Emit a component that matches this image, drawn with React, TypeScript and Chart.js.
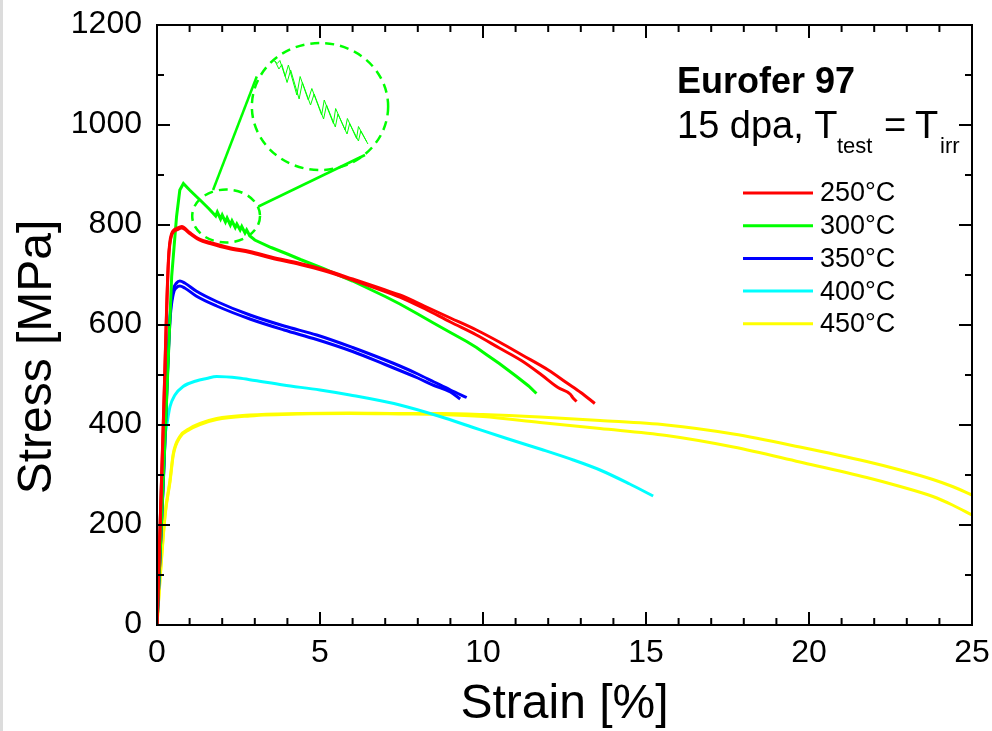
import { useEffect, useRef } from 'react';
import { Chart, registerables } from 'chart.js';

Chart.register(...registerables);

const FONT = '"Liberation Sans", Arial, Helvetica, sans-serif';

// ---- axis ticks ----
const xMajorTicks = [0, 5, 10, 15, 20, 25];
const yMajorTicks = [0, 200, 400, 600, 800, 1000, 1200];
const xMinorStep = 1;
const yMinorStep = 100;
const xTitle = 'Strain [%]';
const yTitle = 'Stress [MPa]';

// ---- legend ----
const seriesLabels = ['250°C', '300°C', '350°C', '400°C', '450°C'];
const seriesColors = ['#ff0000', '#00ff00', '#0000ff', '#00ffff', '#ffff00'];

// ---- 250°C (two specimens) ----
const red1Strain = [0, 0.2, 0.35, 0.45, 0.6, 0.76, 1.0, 1.3, 1.63, 2.2, 2.85, 3.5, 4.39, 5.1, 6.0, 7.0, 7.45, 8.2, 9.0, 9.8, 10.5, 11.2, 12.0, 12.6, 13.0, 13.43];
const red1Stress = [0, 420, 730, 783, 793, 797, 785, 772, 765, 755, 747, 736, 723, 711, 692, 670, 660, 638, 614, 590, 566, 540, 510, 483, 465, 443];
const red2Strain = [0, 0.2, 0.35, 0.45, 0.6, 0.76, 1.0, 1.3, 1.63, 2.2, 2.85, 3.5, 4.39, 5.1, 6.0, 7.0, 7.45, 8.2, 9.0, 9.8, 10.5, 11.2, 11.8, 12.3, 12.67, 12.75, 12.87];
const red2Stress = [0, 415, 725, 780, 790, 794, 783, 770, 763, 753, 745, 734, 721, 709, 690, 667, 656, 633, 606, 580, 554, 528, 500, 475, 462, 455, 447];

// ---- 300°C ----
const greenStrain = [0, 0.2, 0.45, 0.6, 0.7, 0.81, 1.0, 1.32, 1.6, 1.8, 1.85, 1.95, 2.0, 2.1, 2.15, 2.25, 2.3, 2.4, 2.45, 2.55, 2.6, 2.7, 2.75, 2.85, 3.0, 3.5, 4.0, 4.4, 5.1, 6.0, 7.0, 7.45, 8.0, 8.48, 9.0, 9.5, 9.8, 10.1, 10.5, 11.03, 11.4, 11.64];
const greenStress = [0, 300, 697, 817, 870, 883, 870, 850, 832, 818, 826, 812, 820, 806, 814, 800, 808, 795, 802, 790, 797, 784, 790, 778, 770, 755, 742, 731, 713, 688, 657, 642, 622, 604, 585, 567, 555, 541, 523, 497, 478, 463];

// ---- 350°C (two specimens) ----
const blue1Strain = [0, 0.2, 0.4, 0.5, 0.6, 0.7, 0.85, 1.2, 1.83, 2.85, 3.9, 4.9, 6.0, 7.0, 7.45, 8.0, 8.5, 9.0, 9.5];
const blue1Stress = [0, 300, 617, 670, 684, 688, 684, 668, 647, 620, 598, 580, 555, 530, 518, 502, 486, 470, 455];
const blue2Strain = [0, 0.2, 0.4, 0.5, 0.6, 0.7, 0.85, 1.2, 1.83, 2.85, 3.9, 4.9, 6.0, 7.0, 7.45, 8.0, 8.5, 9.0, 9.3];
const blue2Stress = [0, 295, 610, 662, 675, 678, 674, 658, 638, 612, 590, 571, 547, 521, 509, 494, 479, 466, 452];

// ---- 400°C ----
const cyanStrain = [0, 0.14, 0.2, 0.3, 0.4, 0.55, 0.8, 1.2, 1.52, 1.83, 2.5, 3.0, 3.87, 5.0, 5.92, 7.45, 8.68, 9.7, 10.73, 11.8, 12.77, 13.59, 14.5, 15.22];
const cyanStress = [0, 290, 357, 400, 437, 460, 477, 488, 493, 497, 494, 489, 480, 470, 460, 440, 417, 395, 373, 351, 330, 310, 282, 258];

// ---- 450°C (two specimens) ----
const yellow1Strain = [0, 0.09, 0.25, 0.4, 0.5, 0.7, 1.0, 1.32, 1.83, 2.85, 4.4, 5.9, 7.5, 8.7, 10.0, 11.75, 13.59, 15.63, 17.68, 19.72, 21.77, 22.8, 23.8, 24.4, 25.0];
const yellow1Stress = [0, 90, 223, 290, 343, 377, 393, 403, 413, 420, 423, 424, 423, 423, 421, 416, 409, 400, 382, 356, 327, 310, 291, 277, 260];
const yellow2Strain = [0, 0.09, 0.25, 0.4, 0.5, 0.7, 1.0, 1.32, 1.83, 2.85, 4.4, 5.9, 7.5, 8.7, 10.0, 11.75, 13.59, 15.63, 17.68, 19.72, 21.77, 22.8, 23.8, 24.4, 25.0];
const yellow2Stress = [0, 88, 220, 287, 340, 375, 391, 401, 411, 418, 422, 423, 422, 421, 417, 405, 393, 379, 356, 326, 295, 277, 257, 240, 220];

// ---- magnified inset (serrations) ----
const zoomAStrain = [3.57, 3.69, 3.77, 3.93, 4.03, 4.29, 4.39, 4.64, 4.75, 5.05, 5.13, 5.41, 5.48, 5.77, 5.84, 6.12, 6.18, 6.43];
const zoomAStress = [1130, 1123, 1129, 1097, 1120, 1060, 1097, 1050, 1073, 1020, 1050, 1003, 1033, 990, 1013, 973, 997, 967];
const zoomBStrain = [3.62, 3.74, 3.83, 3.99, 4.1, 4.36, 4.46, 4.71, 4.82, 5.11, 5.2, 5.47, 5.55, 5.83, 5.91, 6.18, 6.25, 6.47];
const zoomBStress = [1128, 1112, 1121, 1085, 1110, 1052, 1085, 1040, 1062, 1012, 1040, 996, 1022, 982, 1003, 968, 988, 962];

// connector lines from small to large circle
const connectAStrain = [1.72, 3.06];
const connectAStress = [870, 1097];
const connectBStrain = [3.11, 6.38];
const connectBStress = [837, 940];

// dashed circles: [centerStrain, centerStress, radiusStrain, radiusStress]
const smallCircle = [2.12, 818, 1.04, 53];
const bigCircle = [5.0, 1037, 2.09, 127];

const zip = (xs: number[], ys: number[]) => xs.map((x, i) => ({ x, y: ys[i] }));

const framePlugin = {
  id: 'frameTicks',
  afterDatasetsDraw(chart: any) {
    const { ctx, chartArea, scales } = chart;
    const { left, right, top, bottom } = chartArea;
    const xs = scales.x;
    const ys = scales.y;
    ctx.save();

    // dashed ellipses
    ctx.strokeStyle = '#00ff00';
    ctx.lineWidth = 2.5;
    ctx.setLineDash([9, 6]);
    for (const c of [smallCircle, bigCircle]) {
      const cx = xs.getPixelForValue(c[0]);
      const cy = ys.getPixelForValue(c[1]);
      const rx = Math.abs(xs.getPixelForValue(c[0] + c[2]) - cx);
      const ry = Math.abs(ys.getPixelForValue(c[1] + c[3]) - cy);
      ctx.beginPath();
      ctx.ellipse(cx, cy, rx, ry, 0, 0, Math.PI * 2);
      ctx.stroke();
    }
    ctx.setLineDash([]);

    // frame
    ctx.strokeStyle = '#000';
    ctx.lineWidth = 2;
    ctx.beginPath();
    ctx.rect(left, top, right - left, bottom - top);
    ctx.stroke();

    const line = (x1: number, y1: number, x2: number, y2: number) => {
      ctx.beginPath();
      ctx.moveTo(x1, y1);
      ctx.lineTo(x2, y2);
      ctx.stroke();
    };
    const xMin = xMajorTicks[0];
    const xMax = xMajorTicks[xMajorTicks.length - 1];
    const yMin = yMajorTicks[0];
    const yMax = yMajorTicks[yMajorTicks.length - 1];
    for (let v = xMin + xMinorStep; v < xMax; v += xMinorStep) {
      const px = xs.getPixelForValue(v);
      const len = xMajorTicks.includes(v) ? 13 : 7;
      line(px, bottom, px, bottom - len);
      line(px, top, px, top + len);
    }
    for (let v = yMin + yMinorStep; v < yMax; v += yMinorStep) {
      const py = ys.getPixelForValue(v);
      const len = yMajorTicks.includes(v) ? 13 : 7;
      line(left, py, left + len, py);
      line(right, py, right - len, py);
    }

    // tick labels
    ctx.fillStyle = '#000';
    ctx.font = `32px ${FONT}`;
    ctx.textBaseline = 'middle';
    ctx.textAlign = 'right';
    yMajorTicks.forEach((v) => {
      ctx.fillText(String(v), left - 15, ys.getPixelForValue(v) - 1);
    });
    ctx.textAlign = 'center';
    xMajorTicks.forEach((v) => {
      ctx.fillText(String(v), xs.getPixelForValue(v), bottom + 28);
    });

    // axis titles
    ctx.font = `48px ${FONT}`;
    ctx.textAlign = 'center';
    ctx.textBaseline = 'alphabetic';
    ctx.fillText(xTitle, (left + right) / 2, 718);
    ctx.save();
    ctx.translate(38, 357);
    ctx.rotate(-Math.PI / 2);
    ctx.textBaseline = 'middle';
    ctx.fillText(yTitle, 0, 0);
    ctx.restore();

    // annotation text
    ctx.textBaseline = 'alphabetic';
    ctx.textAlign = 'left';
    ctx.font = `bold 36px ${FONT}`;
    ctx.fillText('Eurofer 97', 677, 93);
    ctx.font = `38px ${FONT}`;
    ctx.fillText('15 dpa, T', 677, 138);
    ctx.fillText('=', 884, 138);
    ctx.fillText('T', 915, 138);
    ctx.font = `22px ${FONT}`;
    ctx.fillText('test', 837, 153);
    ctx.fillText('irr', 940, 153);

    // legend
    ctx.lineWidth = 3;
    ctx.font = `27px ${FONT}`;
    ctx.textBaseline = 'middle';
    seriesLabels.forEach((lab, i) => {
      const y = 193 + i * 32.7;
      ctx.strokeStyle = seriesColors[i];
      line(743, y, 813, y);
      ctx.fillText(lab, 820, y + 1);
    });

    ctx.restore();
  },
};

export default function App() {
  const canvasRef = useRef<HTMLCanvasElement | null>(null);

  useEffect(() => {
    const canvas = canvasRef.current;
    if (!canvas) return;
    const thin = (data: any, color: string, width: number) => ({
      data,
      borderColor: color,
      borderWidth: width,
      pointRadius: 0,
      fill: false,
      tension: 0,
      showLine: true,
    });
    const curve = (data: any, color: string) => ({
      data,
      borderColor: color,
      borderWidth: 3,
      pointRadius: 0,
      fill: false,
      showLine: true,
      cubicInterpolationMode: 'monotone' as const,
    });
    const chart = new Chart(canvas, {
      type: 'scatter',
      data: {
        datasets: [
          thin(zip(zoomAStrain, zoomAStress), '#00ff00', 1),
          thin(zip(zoomBStrain, zoomBStress), '#00ff00', 1),
          thin(zip(connectAStrain, connectAStress), '#00ff00', 2.5),
          thin(zip(connectBStrain, connectBStress), '#00ff00', 2.5),
          curve(zip(red1Strain, red1Stress), seriesColors[0]),
          curve(zip(red2Strain, red2Stress), seriesColors[0]),
          thin(zip(greenStrain, greenStress), seriesColors[1], 3),
          curve(zip(blue1Strain, blue1Stress), seriesColors[2]),
          curve(zip(blue2Strain, blue2Stress), seriesColors[2]),
          curve(zip(cyanStrain, cyanStress), seriesColors[3]),
          curve(zip(yellow1Strain, yellow1Stress), seriesColors[4]),
          curve(zip(yellow2Strain, yellow2Stress), seriesColors[4]),
        ] as any,
      },
      options: {
        responsive: false,
        animation: false,
        devicePixelRatio: 1,
        layout: { padding: { top: 25, right: 20, left: 0, bottom: 0 } },
        plugins: { legend: { display: false }, tooltip: { enabled: false } },
        scales: {
          x: {
            type: 'linear',
            min: xMajorTicks[0],
            max: xMajorTicks[xMajorTicks.length - 1],
            grid: { display: false, drawTicks: false },
            border: { display: false },
            ticks: { display: false, stepSize: 5 },
            title: { display: false },
            afterFit: (s: any) => {
              s.height = 106;
            },
          },
          y: {
            type: 'linear',
            min: yMajorTicks[0],
            max: yMajorTicks[yMajorTicks.length - 1],
            grid: { display: false, drawTicks: false },
            border: { display: false },
            ticks: { display: false, stepSize: 200 },
            title: { display: false },
            afterFit: (s: any) => {
              s.width = 157;
            },
          },
        },
      },
      plugins: [framePlugin],
    });
    return () => chart.destroy();
  }, []);

  return (
    <div style={{ position: 'fixed', left: 0, top: 0, width: 992, height: 731, background: '#fff' }}>
      <div style={{ position: 'absolute', left: 0, top: 0, width: 3, height: 731, background: '#dcdcdc' }} />
      <canvas ref={canvasRef} width={992} height={731} style={{ position: 'absolute', left: 0, top: 0 }} />
    </div>
  );
}
